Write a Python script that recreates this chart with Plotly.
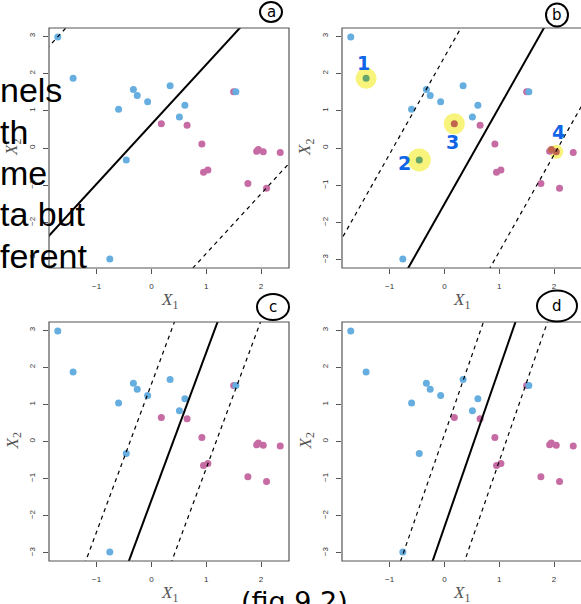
import plotly.graph_objects as go

W, H = 581, 604

# Observations (two classes)
blue_x = [-1.71, -1.43, -0.60, -0.33, -0.26, -0.07, 0.34, 0.61, 0.51, 1.54, -0.46, -0.76]
blue_y = [2.98, 1.87, 1.04, 1.57, 1.41, 1.24, 1.67, 1.15, 0.83, 1.51, -0.32, -2.98]
purple_x = [0.18, 0.65, 0.92, 0.95, 1.03, 1.50, 1.76, 1.92, 1.95, 2.04, 2.10, 2.35]
purple_y = [0.65, 0.61, 0.11, -0.65, -0.59, 1.51, -0.95, -0.09, -0.04, -0.10, -1.08, -0.12]

# Separating line and margins per panel: slope, solid, upper dashed, lower dashed intercepts
panels = ["a", "b", "c", "d"]
slopes = [1.60, 2.60, 3.98, 4.26]
icpt_solid = [0.64, -1.50, -1.58, -2.30]
icpt_upper = [5.72, 2.44, 1.55, 0.19]
icpt_lower = [-4.43, -5.38, -4.70, -4.79]

x_ticks = [-1, 0, 1, 2]
y_ticks = [-3, -2, -1, 0, 1, 2, 3]
x_range = [-1.87, 2.51]
y_range = [-3.22, 3.22]

# Highlighted observations in panel b: (class, index, marker diameter) and their numbers
hl_points = [("blue", 1, 21), ("blue", 10, 23), ("purple", 0, 21), ("purple", 9, 14)]
hl_labels = ["1", "2", "3", "4"]

BLUE = (103, 174, 224)
PURPLE = (198, 107, 163)
HIGHLIGHT = (248, 243, 122)


def rgb(c):
    return "rgb(%d,%d,%d)" % c


def multiply(c, m):
    return tuple(int(round(a * b / 255)) for a, b in zip(c, m))


def px(xp):
    return xp / W


def py(yp):
    return 1 - yp / H


# subplot boxes in pixels: left, right, top, bottom
boxes = [(49, 289, 28, 268), (342, 581, 28, 268), (49, 289, 322, 561), (342, 581, 322, 561)]

fig = go.Figure()
layout = dict(width=W, height=H, margin=dict(l=0, r=0, t=0, b=0),
              paper_bgcolor="white", plot_bgcolor="white", showlegend=False,
              shapes=[], annotations=[])

tick_font = dict(family="Liberation Sans", size=8, color="#333333")

for i, name in enumerate(panels):
    k = "" if i == 0 else str(i + 1)
    l, r, t, b = boxes[i]
    xr = list(x_range)
    if r >= W:
        # panel runs past the right page edge
        xr[1] = x_range[0] + (x_range[1] - x_range[0]) * (r - l) / 240
    layout["xaxis" + k] = dict(domain=[px(l), px(r)], range=xr, anchor="y" + k,
                               tickvals=x_ticks, ticks="outside", ticklen=5, tickcolor="#555",
                               tickwidth=1, showgrid=False, zeroline=False, showline=False,
                               tickfont=tick_font, ticklabelstandoff=5, fixedrange=True)
    layout["yaxis" + k] = dict(domain=[py(b), py(t)], range=y_range, anchor="x" + k,
                               tickvals=y_ticks, ticks="outside", ticklen=5, tickcolor="#555",
                               tickwidth=1, showgrid=False, zeroline=False, showline=False,
                               tickfont=tick_font, tickangle=-90, ticklabelstandoff=5,
                               fixedrange=True)
    # plot frame
    layout["shapes"].append(dict(type="rect", xref="x%s domain" % k, yref="y%s domain" % k,
                                 x0=0, x1=1.03 if r >= W else 1, y0=0, y1=1,
                                 line=dict(color="#555", width=1.2), layer="above"))
    xa, ya = "x" + k, "y" + k

    # highlighter marks (panel b)
    hl_members = set()
    if name == "b":
        for cls, idx, size in hl_points:
            xs = blue_x if cls == "blue" else purple_x
            ys = blue_y if cls == "blue" else purple_y
            fig.add_trace(go.Scatter(x=[xs[idx]], y=[ys[idx]], mode="markers", xaxis=xa, yaxis=ya,
                                     marker=dict(size=size, color=rgb(HIGHLIGHT), line=dict(width=0)),
                                     hoverinfo="skip"))
            hl_members.add((cls, idx))
        hl_members.add(("purple", 8))

    for cls, xs, ys, col in (("purple", purple_x, purple_y, PURPLE), ("blue", blue_x, blue_y, BLUE)):
        colors = [rgb(multiply(col, HIGHLIGHT)) if (cls, j) in hl_members else rgb(col)
                  for j in range(len(xs))]
        fig.add_trace(go.Scatter(x=xs, y=ys, mode="markers", xaxis=xa, yaxis=ya,
                                 marker=dict(size=7, color=colors, line=dict(width=0))))

    lx = [-3, 4]
    for icpt, dash, w in ((icpt_solid[i], "solid", 2.0), (icpt_upper[i], "4px,4px", 1.2),
                          (icpt_lower[i], "4px,4px", 1.2)):
        fig.add_trace(go.Scatter(x=lx, y=[icpt + slopes[i] * v for v in lx], mode="lines",
                                 xaxis=xa, yaxis=ya, line=dict(color="black", width=w, dash=dash),
                                 hoverinfo="skip"))

    # axis titles
    cx = (l + min(r, l + 240)) / 2
    layout["annotations"].append(dict(text="<i>X</i><sub>1</sub>", xref="paper", yref="paper",
                                      x=px(cx), y=py(b + 33), xanchor="center", yanchor="middle",
                                      showarrow=False,
                                      font=dict(family="Liberation Serif", size=17, color="#555")))
    layout["annotations"].append(dict(text="<i>X</i><sub>2</sub>", xref="paper", yref="paper",
                                      x=px(l - 36), y=py((t + b) / 2), xanchor="center",
                                      yanchor="middle", textangle=-90, showarrow=False,
                                      font=dict(family="Liberation Serif", size=17, color="#555")))

# circled panel letters
circles = [("a", 271, 12, 22, 20), ("b", 557, 15, 22, 23), ("c", 273, 307, 32, 26), ("d", 557, 306, 40, 31)]
for letter, cx, cy, cw, ch in circles:
    layout["shapes"].append(dict(type="circle", xref="paper", yref="paper",
                                 x0=px(cx - cw / 2), x1=px(cx + cw / 2),
                                 y0=py(cy + ch / 2), y1=py(cy - ch / 2),
                                 line=dict(color="black", width=2)))
    layout["annotations"].append(dict(text=letter, xref="paper", yref="paper", x=px(cx), y=py(cy),
                                      xanchor="center", yanchor="middle", showarrow=False,
                                      font=dict(family="DejaVu Sans", size=15, color="black")))

# numbers written next to the highlighted points
num_pos = [(363, 63), (405, 163), (452, 142), (558, 132)]
for lab, (nx, ny) in zip(hl_labels, num_pos):
    layout["annotations"].append(dict(text="<b>%s</b>" % lab, xref="paper", yref="paper",
                                      x=px(nx), y=py(ny), xanchor="center", yanchor="middle",
                                      showarrow=False,
                                      font=dict(family="DejaVu Sans", size=19, color="#1064E8")))

# slide text running in from the left
slide_lines = ["nels", "th", "me", "ta but", "ferent"]
for j, s in enumerate(slide_lines):
    baseline = 101.5 + 41.3 * j
    layout["annotations"].append(dict(text=s, xref="paper", yref="paper", x=px(-2),
                                      y=py(baseline - 11), xanchor="left", yanchor="middle",
                                      showarrow=False,
                                      font=dict(family="Liberation Sans", size=34, color="black")))

layout["annotations"].append(dict(text="(fig 9.2)", xref="paper", yref="paper", x=px(294),
                                  y=py(584), xanchor="center", yanchor="top", showarrow=False,
                                  font=dict(family="DejaVu Sans", size=27, color="black")))

fig.update_layout(**layout)
fig.write_html("out.html")
